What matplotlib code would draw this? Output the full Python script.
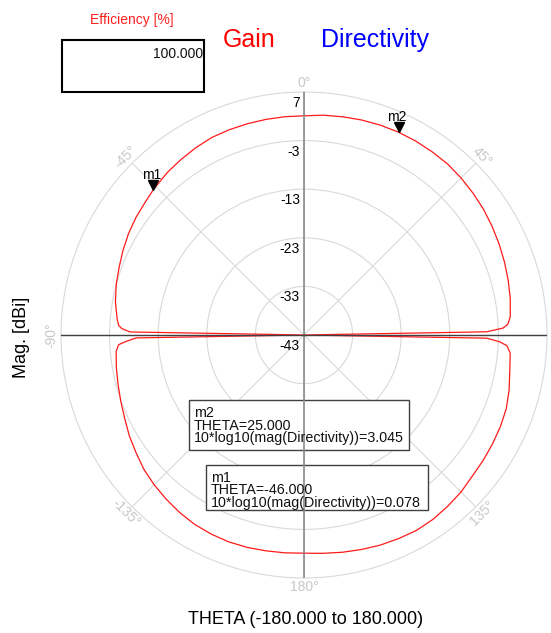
import numpy as np
import matplotlib
matplotlib.use("Agg")
import matplotlib.pyplot as plt
from matplotlib.patches import Rectangle
from matplotlib.transforms import offset_copy

plt.rcParams['font.family'] = ['Liberation Sans', 'DejaVu Sans']

# Gain pattern (THETA in deg, gain in dBi)
theta_deg = [-180, -175, -170, -165, -160, -155, -150, -145, -140, -135, -130, -125, -120, -115, -110,
             -105, -100, -95, -93, -92, -91, -90,
             -89, -88, -87, -85, -80, -75, -70, -65, -60, -55, -50, -46, -40, -35, -30, -25, -20, -15, -10, -5,
             0, 5, 10, 15, 20, 25, 30, 35, 40, 45, 50, 55, 60, 65, 70, 75, 80, 85, 87, 88, 89, 90,
             91, 92, 93, 95, 100, 105, 110, 115, 120, 125, 130, 135, 140, 145, 150, 155, 160, 165, 170, 175, 180]
gain_db = [1.9, 2.0, 2.1, 2.25, 2.3, 2.2, 2.0, 1.6, 1.1, 0.6, 0.0, -0.8, -1.5, -2.3, -2.9,
           -3.4, -3.8, -4.2, -4.8, -6.5, -8.5, -43,
           -7.2, -5.5, -4.8, -4.4, -3.6, -3.0, -2.5, -1.9, -1.3, -0.8, -0.4, 0.078, 0.7, 1.1, 1.5, 1.85, 1.95, 2.0, 2.05, 2.08,
           2.1, 2.4, 2.6, 2.8, 2.95, 3.045, 3.05, 3.0, 2.95, 2.7, 2.4, 2.1, 1.7, 1.3, 0.9, 0.5, 0.1, -0.4, -1.0, -2.0, -5.4, -43,
           -5.4, -2.7, -1.2, -0.4, 0.0, 0.7, 1.3, 1.6, 1.8, 2.0, 2.2, 2.7, 3.0, 3.3, 3.4, 3.2, 3.0, 2.7, 2.4, 2.1, 1.9]

r_ticks = [-43, -33, -23, -13, -3, 7]
angle_ticks = [0, 45, 90, 135, 180, -135, -90, -45]

markers = ['m1', 'm2']
marker_theta = [-46.0, 25.0]
marker_val = [0.078, 3.045]

W, H = 551, 633
fig = plt.figure(figsize=(W / 100, H / 100), dpi=100)


def px(x, y):
    return x / W, 1 - y / H


ax = fig.add_axes([0.1107, 0.0869, 0.882, 0.7678], projection='polar')
ax.set_theta_zero_location('N')
ax.set_theta_direction(-1)
ax.set_rlim(r_ticks[0], r_ticks[-1])
ax.set_yticks(r_ticks[1:-1])
ax.set_yticklabels([])
ax.set_thetagrids(range(0, 360, 45), labels=[''] * 8)
ax.grid(color='#d9d9d9', lw=0.8)
ax.spines['polar'].set_color('#d9d9d9')
ax.spines['polar'].set_linewidth(0.8)

# axis lines
ax.plot([0, 0], [-43, 7], color='#8a8a8a', lw=1.2, zorder=4)
ax.plot([np.pi, np.pi], [-43, 7], color='#8a8a8a', lw=1.2, zorder=4)
ax.plot([np.pi / 2, np.pi / 2], [-43, 7], color='#404040', lw=1.0, zorder=4)
ax.plot([-np.pi / 2, -np.pi / 2], [-43, 7], color='#404040', lw=1.0, zorder=4)

# gain curve
ax.plot(np.radians(theta_deg), gain_db, color='#ff1a1a', lw=0.9, zorder=3)

# radial labels
for r in r_ticks:
    ax.annotate(str(r), xy=(0, r), xytext=(-4, -11), textcoords='offset pixels',
                ha='right', va='center', fontsize=10, color='black', zorder=5)

# angle labels
for a in angle_ticks:
    rot = -a
    if rot > 90:
        rot -= 180
    elif rot < -90:
        rot += 180
    if a == 180:
        rot = 0
    ax.text(np.radians(a), 8.9, f'{a}°', rotation=rot, rotation_mode='anchor',
            ha='center', va='center', fontsize=10, color='#c8c8c8', clip_on=False)

# markers
tri = offset_copy(ax.transData, fig=fig, x=0, y=5, units='dots')
lab = offset_copy(ax.transData, fig=fig, x=-2, y=15, units='dots')
for name, t, v in zip(markers, marker_theta, marker_val):
    ax.plot(np.radians(t), v, marker='v', color='black', ms=7.5, transform=tri, zorder=6, clip_on=False)
    ax.text(np.radians(t), v, name, transform=lab, ha='center', va='center', fontsize=10, zorder=6)

# marker info boxes
boxes = [
    (189, 400, 220, 50, ['m2', 'THETA=25.000', '10*log10(mag(Directivity))=3.045']),
    (206, 465, 222, 45, ['m1', 'THETA=-46.000', '10*log10(mag(Directivity))=0.078']),
]
for bx, by, bw, bh, lines in boxes:
    x0, y0 = px(bx, by + bh)
    ax.add_patch(Rectangle((x0, y0), bw / W, bh / H, transform=fig.transFigure, facecolor='white',
                           edgecolor='#404040', lw=1.0, zorder=3.5, clip_on=False))
    for i, s in enumerate(lines):
        ax.text(*px(bx + 5, by + 13 + 12.5 * i), s, transform=fig.transFigure, ha='left', va='center',
                fontsize=10.3, color='#111111', zorder=5)

# header
fig.text(*px(132, 20), 'Efficiency [%]', color='#ff2020', fontsize=10, ha='center', va='center')
fig.add_artist(Rectangle(px(62, 92), 142 / W, 52 / H, transform=fig.transFigure,
                         facecolor='none', edgecolor='black', lw=1.5))
fig.text(*px(203, 54), '100.000', fontsize=10, ha='right', va='center', color='#111111')
fig.text(*px(249, 40), 'Gain', color='red', fontsize=18, ha='center', va='center')
fig.text(*px(375, 40), 'Directivity', color='blue', fontsize=18, ha='center', va='center')

fig.text(*px(21, 337), 'Mag. [dBi]', fontsize=13, rotation=90, ha='center', va='center')
fig.text(*px(306, 620), 'THETA (-180.000 to 180.000)', fontsize=13, ha='center', va='center')

fig.savefig('out.png', dpi=100)
